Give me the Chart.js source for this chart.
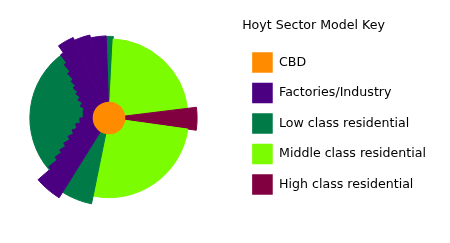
<!DOCTYPE html>
<html>
<head>
<meta charset="utf-8">
<script src="https://cdn.jsdelivr.net/npm/chart.js"></script>
<style>
  html, body { margin: 0; padding: 0; background: #fff; }
  #contenedor { width: 450px; height: 243px; }
</style>
</head>
<body>
<div id="contenedor"><canvas id="grafico"></canvas></div>
<script>
const zoneNames = ['CBD', 'Factories/Industry', 'Low class residential', 'Middle class residential', 'High class residential'];
const zoneColors = ['#ff8c00', '#4b0082', '#007a46', '#7cfc00', '#800040'];

// outer sectors, clockwise from just left of north (index into zoneNames)
const sectorZone = [2, 3, 4, 3, 2, 1, 2, 1, 1, 1];
const sectorSpan = [5, 80, 15, 93.5, 20.5, 17, 96, 11, 11, 11];
const sectorReach = [82, 79.5, 88.5, 80, 88, 94.5, 79.5, 88.5, 85.5, 82.5];

// industry spreading into the low class sector near the CBD (first slot is empty)
const spreadSpan = [230, 3, 3, 3, 4, 5, 6, 8, 10, 12, 10, 8, 6, 4, 4, 3, 3, 2.5, 2.5];
const spreadReach = [0, 78, 67, 59, 52, 45, 39, 34, 29.3, 26, 26.8, 31, 36, 41, 47, 53, 61, 70, 80];

const cbdReach = [16.4];
const reachMax = 109.5;

class HoytChart {
    constructor(canvas) {
        this.canvas = canvas;
    }

    #datasetCBD() {
        return {
            data: cbdReach,
            angle: 360,
            backgroundColor: zoneColors[0],
            borderWidth: 0
        };
    }

    #datasetSpread() {
        const colors = spreadReach.map((r, i) => i === 0 ? 'rgba(0,0,0,0)' : zoneColors[1]);
        return {
            data: spreadReach,
            angle: ctx => spreadSpan[ctx.dataIndex],
            backgroundColor: colors,
            borderColor: colors,
            borderWidth: 1,
            borderJoinStyle: 'miter'
        };
    }

    #datasetSectors() {
        const colors = sectorZone.map(z => zoneColors[z]);
        return {
            data: sectorReach,
            angle: ctx => sectorSpan[ctx.dataIndex],
            backgroundColor: colors,
            borderColor: colors,
            borderWidth: 1,
            borderJoinStyle: 'miter'
        };
    }

    static fn_legendLabels() {
        return () => zoneNames.map((text, i) => ({
            text: text,
            fillStyle: zoneColors[i],
            strokeStyle: zoneColors[i],
            fontColor: '#000',
            lineWidth: 0,
            hidden: false,
            index: i
        }));
    }

    draw() {
        const font = { family: 'DejaVu Sans', size: 12.6 };

        return new Chart(this.canvas, {
            type: 'polarArea',
            data: {
                labels: sectorZone.map(z => zoneNames[z]),
                // first dataset is painted last (on top)
                datasets: [this.#datasetCBD(), this.#datasetSpread(), this.#datasetSectors()]
            },
            options: {
                responsive: true,
                maintainAspectRatio: false,
                animation: false,
                layout: { padding: { left: 0, right: 14, top: 0, bottom: 6.4 } },
                scales: {
                    r: { display: false, min: 0, max: reachMax, startAngle: -2 }
                },
                plugins: {
                    tooltip: { enabled: false },
                    // empty title used as a gap between the wheel and the key
                    title: {
                        display: true,
                        text: '',
                        position: 'right',
                        weight: 500,
                        font: { size: 10, lineHeight: 1 },
                        padding: { top: 0, bottom: 13 }
                    },
                    legend: {
                        position: 'right',
                        align: 'start',
                        maxWidth: 230,
                        onClick: null,
                        title: {
                            display: true,
                            text: 'Hoyt Sector Model Key',
                            position: 'start',
                            color: '#000',
                            font: font,
                            padding: { top: 19.8, bottom: 7.3 }
                        },
                        labels: {
                            boxWidth: 20.6,
                            boxHeight: 20.5,
                            padding: 10,
                            color: '#000',
                            font: font,
                            generateLabels: HoytChart.fn_legendLabels()
                        }
                    }
                }
            }
        });
    }
}

new HoytChart(document.getElementById('grafico')).draw();
</script>
</body>
</html>
